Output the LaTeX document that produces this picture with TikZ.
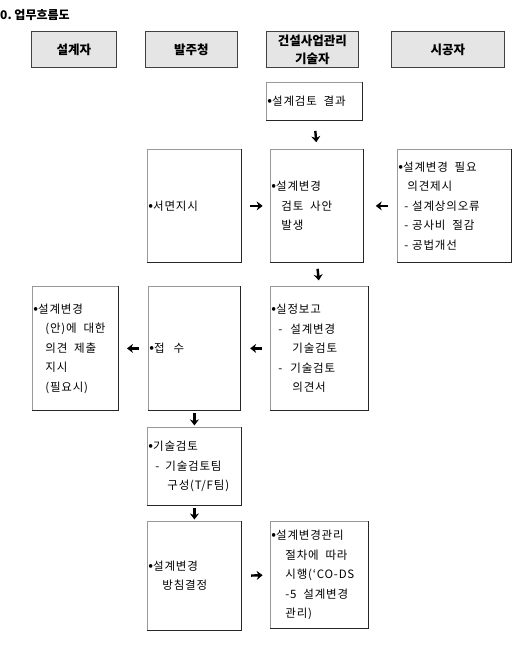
\documentclass[tikz,border=0pt]{standalone}
\usepackage{fontspec}
\newfontfamily\kr{Noto Sans CJK KR}
\newfontfamily\krsp{Noto Sans CJK KR}[LetterSpace=7]
\usetikzlibrary{calc,arrows.meta}
\newcommand\bul{{\fontsize{14}{14}\selectfont•}}
\newcommand\gap{~\hspace*{3pt}}
\begin{document}
\begin{tikzpicture}[x=1pt,y=-1pt,
  hdr/.style={draw=black!75, line width=0.9pt, fill=black!10, font=\kr\bfseries\fontsize{12.5}{18}\selectfont, align=center, inner sep=0pt, anchor=north west},
  box/.style={draw=black!40, line width=0.8pt, fill=white, font=\krsp\fontsize{11.5}{19.5}\selectfont, align=left, inner xsep=1pt, inner ysep=0pt, anchor=north west, text=black},
  darkedge/.style={draw=black!85, line width=0.9pt},
  arr/.style={line width=2.4pt, -{Stealth[length=6pt,width=9pt]}}
]
\useasboundingbox (0,0) rectangle (531,654);

\node[font=\kr\bfseries\fontsize{12}{13}\selectfont, anchor=west, inner sep=0pt] (title) at (0,15) {0.~업무흐름도};

% headers
\node[hdr, minimum width=85pt, minimum height=36pt] (hd1) at (31,31) {설계자};
\node[hdr, minimum width=92pt, minimum height=36pt] (hd2) at (145,31) {발주청};
\node[hdr, minimum width=92pt, minimum height=36pt] (hd3) at (266,31) {건설사업관리\\기술자};
\node[hdr, minimum width=113pt, minimum height=36pt] (hd4) at (391,31) {시공자};

% boxes
\node[box, minimum height=38pt, text width=94pt] (res) at (266,82) {\bul{}설계검토\gap{}결과};
\node[box, minimum height=113pt, text width=92pt] (order) at (147,149) {\bul{}서면지시};
\node[box, minimum height=113pt, text width=91pt] (rev) at (270,149)
  {\bul{}설계변경\\\hspace*{10pt}검토\gap{}사안\\\hspace*{10pt}발생};
\node[box, minimum height=113pt, text width=112pt] (sub) at (397,149)
  {\bul{}설계변경\gap{}필요\\\hspace*{9pt}의견제시\\\hspace*{6pt}-~설계상의오류\\\hspace*{6pt}-~공사비\gap{}절감\\\hspace*{6pt}-~공법개선};
\node[box, minimum height=124pt, text width=84pt] (left) at (32,286)
  {\bul{}설계변경\\\hspace*{12pt}(안)에\gap{}대한\\\hspace*{12pt}의견\gap{}제출\\\hspace*{12pt}지시\\\hspace*{12pt}(필요시)};
\node[box, minimum height=124pt, text width=90pt] (recv) at (148,286) {\bul{}접\hspace*{9pt}수};
\node[box, minimum height=124pt, text width=96pt] (report) at (270,286)
  {\bul{}실정보고\\\hspace*{7pt}-\hspace*{8pt}설계변경\\\hspace*{21pt}기술검토\\\hspace*{7pt}-\hspace*{8pt}기술검토\\\hspace*{21pt}의견서};
\node[box, minimum height=78pt, text width=92pt] (tech) at (147,427)
  {\bul{}기술검토\\\hspace*{7pt}-\hspace*{6pt}기술검토팀\\\hspace*{19pt}구성(T/F팀)};
\node[box, minimum height=109pt, text width=92pt] (decide) at (147,521)
  {\bul{}설계변경\\\hspace*{14pt}방침결정};
\node[box, minimum height=107pt, text width=96pt] (exec) at (270,521)
  {\bul{}설계변경관리\\\hspace*{14pt}절차에\gap{}따라\\\hspace*{14pt}시행(‘CO-DS\\\hspace*{14pt}-5\gap{}설계변경\\\hspace*{14pt}관리)};

\foreach \n in {res,order,rev,sub,left,recv,report,tech,decide,exec}
  \draw[darkedge] (\n.north east) -- (\n.south east) -- (\n.south west);

% arrows
\draw[arr] ($(res.south)!0.36!(rev.north)$) -- ($(res.south)!0.76!(rev.north)$);
\draw[arr] ($(order.east)!0.30!(rev.west)$) -- ($(order.east)!0.74!(rev.west)$);
\draw[arr] ($(sub.west)!0.26!(rev.east)$) -- ($(sub.west)!0.64!(rev.east)$);
\draw[arr] ($(rev.south)!0.26!(report.north)$) -- ($(rev.south)!0.76!(report.north)$);
\draw[arr] ($(report.west)!0.26!(recv.east)$) -- ($(report.west)!0.68!(recv.east)$);
\draw[arr] ($(recv.west)!0.32!(left.east)$) -- ($(recv.west)!0.72!(left.east)$);
\draw[arr] ($(recv.south)!0.16!(tech.north)$) -- ($(recv.south)!0.9!(tech.north)$);
\draw[arr] ($(tech.south)!0.16!(decide.north)$) -- ($(tech.south)!0.9!(decide.north)$);
\draw[arr] ($(decide.east)!0.33!(exec.west)$) -- ($(decide.east)!0.74!(exec.west)$);
\end{tikzpicture}
\end{document}
